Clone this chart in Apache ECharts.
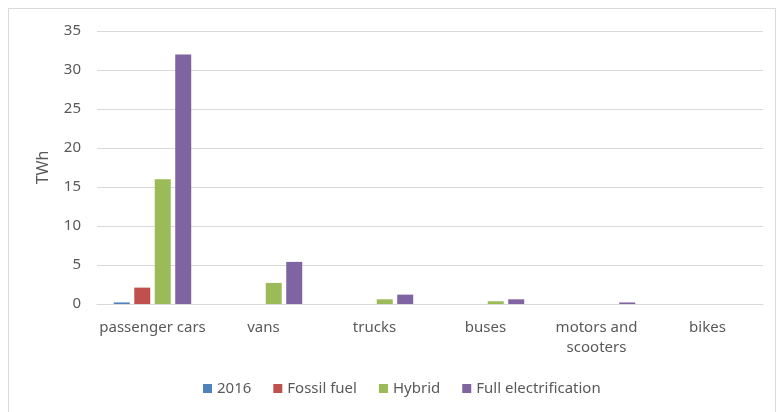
<!DOCTYPE html>
<html>
<head>
<meta charset="utf-8">
<script src="https://cdn.jsdelivr.net/npm/echarts@6/dist/echarts.min.js"></script>
<style>
  html, body { margin: 0; padding: 0; background: #fff; }
  #chart { width: 780px; height: 412px; }
</style>
</head>
<body>
<div id="chart"></div>
<script>
    // vehicle categories and TWh per scenario
    var categories = ['passenger cars', 'vans', 'trucks', 'buses', 'motors and scooters', 'bikes'];
    var base2016 = [0.2, 0, 0, 0, 0, 0];
    var fossilFuel = [2.1, 0, 0, 0, 0, 0];
    var hybrid = [16, 2.7, 0.6, 0.35, 0, 0];
    var fullElectric = [32, 5.4, 1.2, 0.6, 0.2, 0];
    var seriesNames = ['2016', 'Fossil fuel', 'Hybrid', 'Full electrification'];
    var colors = ['#4F81BD', '#C0504D', '#9BBB59', '#8064A2'];

    var chart = echarts.init(document.getElementById('chart'));
    var fontFamily = 'Noto Sans';
    var values = [base2016, fossilFuel, hybrid, fullElectric];

    var option = {
        animation: false,
        color: colors,
        graphic: [{
            type: 'rect',
            shape: { x: 8.5, y: 8.5, width: 767, height: 410 },
            style: { fill: 'none', stroke: '#d9d9d9', lineWidth: 1 }
        }],
        grid: { left: 97, right: 17, top: 31, bottom: 108 },
        legend: {
            bottom: 11,
            left: 198,
            itemWidth: 9,
            itemHeight: 9,
            itemGap: 22,
            icon: 'rect',
            textStyle: { color: '#595959', fontSize: 15, fontFamily: fontFamily, padding: [0, 0, 0, 0] },
            data: seriesNames
        },
        xAxis: {
            type: 'category',
            data: categories,
            axisLine: { lineStyle: { color: '#d9d9d9' } },
            axisTick: { show: false },
            axisLabel: {
                color: '#595959',
                fontSize: 15,
                fontFamily: fontFamily,
                margin: 14,
                lineHeight: 20,
                interval: 0,
                formatter: function (v) {
                    return v === 'motors and scooters' ? 'motors and\nscooters' : v;
                }
            }
        },
        yAxis: {
            type: 'value',
            min: 0,
            max: 35,
            interval: 5,
            name: 'TWh',
            nameLocation: 'middle',
            nameGap: 46,
            nameTextStyle: { color: '#595959', fontSize: 16, fontFamily: fontFamily },
            axisLine: { show: false },
            axisTick: { show: false },
            axisLabel: { color: '#595959', fontSize: 15, fontFamily: fontFamily, margin: 16 },
            splitLine: { lineStyle: { color: '#d9d9d9' } }
        },
        series: seriesNames.map(function (name, i) {
            return {
                name: name,
                type: 'bar',
                barWidth: 16,
                barGap: '28%',
                itemStyle: { color: colors[i] },
                data: values[i]
            };
        })
    };

    chart.setOption(option);
</script>
</body>
</html>
